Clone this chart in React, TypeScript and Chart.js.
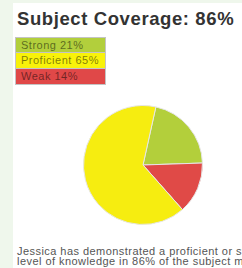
import React, { useEffect, useRef } from "react";
import { Chart, registerables } from "chart.js";

Chart.register(...registerables);

const titleText = "Subject Coverage: 86%";
const categories = ["Strong", "Proficient", "Weak"];
const values = [21, 65, 14];
const colors = ["#b3cf3b", "#f6ed10", "#e04a47"];
const legendColors = ["#b2cf3c", "#f8f20a", "#e04848"];
// clockwise drawing order of the slices in the pie
const pieOrder = [0, 2, 1];
const startRotation = 12.5;
const summaryText =
  "Jessica has demonstrated a proficient or strong level of knowledge in 86% of the subject matter.";

export default function App() {
  const canvasRef = useRef<HTMLCanvasElement | null>(null);

  useEffect(() => {
    const canvas = canvasRef.current;
    if (!canvas) return;
    const chart = new Chart(canvas, {
      type: "pie",
      data: {
        labels: pieOrder.map((i) => categories[i]),
        datasets: [
          {
            data: pieOrder.map((i) => values[i]),
            backgroundColor: pieOrder.map((i) => colors[i]),
            borderColor: "#e6e6e6",
            borderWidth: 1,
            hoverOffset: 0,
          },
        ],
      },
      options: {
        responsive: false,
        animation: false,
        rotation: startRotation,
        layout: { padding: 0 },
        plugins: {
          legend: { display: false },
          tooltip: { enabled: false },
          title: { display: false },
        },
      },
    });
    return () => chart.destroy();
  }, []);

  const font = "'Liberation Sans', Arial, Helvetica, sans-serif";

  return (
    <div
      style={{
        position: "absolute",
        left: 0,
        top: 0,
        width: 242,
        height: 268,
        overflow: "hidden",
        background: "#eff7ec",
        fontFamily: font,
      }}
    >
      <div
        style={{
          position: "absolute",
          left: 13,
          top: 3,
          right: 0,
          bottom: 0,
          background: "#ffffff",
        }}
      />
      <div
        style={{
          position: "absolute",
          left: 17,
          top: 8,
          fontSize: 18.5,
          lineHeight: "22px",
          letterSpacing: "0.6px",
          fontWeight: "bold",
          color: "#333333",
          whiteSpace: "nowrap",
        }}
      >
        {titleText}
      </div>
      <div style={{ position: "absolute", left: 15, top: 37, width: 91 }}>
        {categories.map((c, i) => (
          <div
            key={c}
            style={{
              boxSizing: "border-box",
              height: 16,
              background: legendColors[i],
              border: "1px solid #c4c4c4",
              borderTop: i === 0 ? "1px solid #c4c4c4" : "none",
              fontSize: 11,
              lineHeight: "14px",
              letterSpacing: "0.5px",
              paddingLeft: 5,
              color: "rgba(0,0,0,0.5)",
              whiteSpace: "nowrap",
              overflow: "hidden",
            }}
          >
            {c} {values[i]}%
          </div>
        ))}
      </div>
      <canvas
        ref={canvasRef}
        width={120}
        height={120}
        style={{ position: "absolute", left: 83, top: 105, width: 120, height: 120 }}
      />
      <div
        style={{
          position: "absolute",
          left: 17,
          top: 246,
          width: 262,
          fontSize: 11,
          lineHeight: "10px",
          letterSpacing: "0.45px",
          color: "#555555",
        }}
      >
        {summaryText}
      </div>
    </div>
  );
}
